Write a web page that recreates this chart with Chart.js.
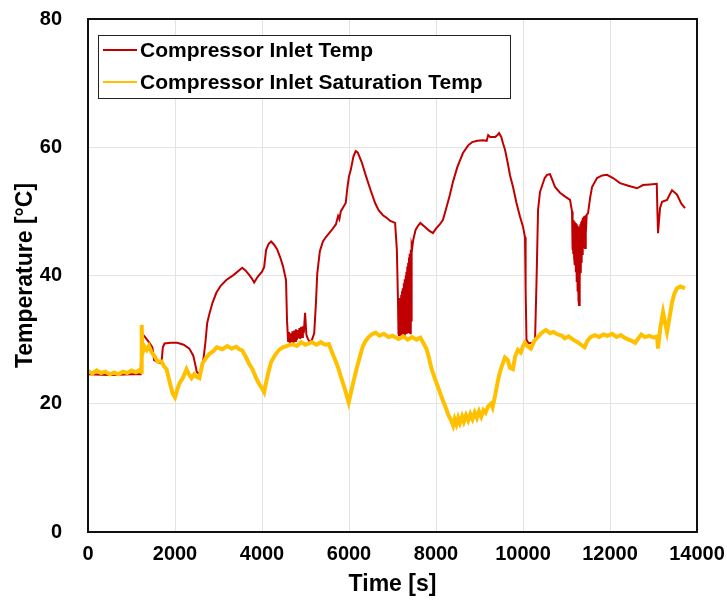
<!DOCTYPE html>
<html>
<head>
<meta charset="utf-8">
<script src="https://cdn.jsdelivr.net/npm/chart.js@4.4.1/dist/chart.umd.min.js"></script>
<style>
  html, body { margin: 0; padding: 0; background: #fff; }
  canvas { display: block; }
</style>
</head>
<body>
<canvas id="chart" width="727" height="601"></canvas>
<script>
// Compressor inlet temperature [s, °C]
const inletTemp = [
  [0,24.6],[500,24.5],[1000,24.6],[1210,24.6],[1230,31.0],[1300,30.5],[1400,29.6],[1480,28.8],
  [1520,26.8],[1600,26.5],[1690,26.3],[1720,28.8],[1760,29.4],[1900,29.5],[2050,29.5],[2200,29.2],
  [2330,28.6],[2420,27.5],[2460,26.3],[2500,25.0],[2560,24.6],[2610,25.3],[2660,27.3],[2700,29.6],
  [2740,32.6],[2790,34.0],[2860,35.7],[2950,37.3],[3050,38.4],[3180,39.3],[3350,40.1],[3546,41.2],
  [3620,40.8],[3706,40.1],[3760,39.6],[3820,38.9],[3900,39.8],[4000,40.6],[4049,41.3],[4095,44.0],
  [4150,44.9],[4209,45.3],[4280,44.8],[4346,44.1],[4420,42.8],[4480,41.5],[4552,39.3],[4575,33.0],
  [4600,29.8],[4620,31.2],[4640,29.4],[4660,31.0],[4680,29.6],[4700,31.3],[4720,29.5],[4740,31.4],
  [4760,29.8],[4780,31.6],[4800,29.9],[4820,31.5],[4840,30.2],[4860,31.8],[4880,30.1],[4900,32.0],
  [4920,30.4],[4940,32.1],[4960,31.0],[4990,34.2],[5020,30.8],[5050,30.2],[5080,29.8],[5130,29.6],
  [5200,31.0],[5240,35.7],[5270,40.3],[5330,43.8],[5400,45.3],[5470,46.0],[5605,47.1],[5700,48.0],
  [5750,49.3],[5780,48.8],[5811,50.0],[5925,51.3],[5960,53.5],[6000,55.5],[6039,56.4],[6100,58.5],
  [6154,59.4],[6200,59.2],[6291,57.7],[6400,55.3],[6497,53.3],[6600,51.3],[6680,50.2],[6780,49.4],
  [6863,49.0],[6950,48.5],[7060,48.2],[7100,44.0],[7127,35.7],[7135,30.8],[7140,36.0],[7150,30.7],
  [7160,36.5],[7170,30.9],[7180,35.2],[7190,30.6],[7200,37.0],[7210,31.0],[7220,37.6],[7230,30.8],
  [7240,38.0],[7250,31.1],[7260,38.8],[7270,30.7],[7280,39.4],[7290,31.0],[7300,40.0],[7310,31.2],
  [7320,40.6],[7330,30.9],[7340,41.4],[7350,31.3],[7360,42.0],[7370,31.0],[7380,42.8],[7390,31.4],
  [7400,43.4],[7410,31.0],[7420,44.0],[7430,33.0],[7440,44.8],[7455,44.4],[7475,45.5],[7530,47.1],
  [7590,47.8],[7640,48.2],[7740,47.6],[7840,47.0],[7930,46.6],[8000,47.3],[8090,48.0],[8160,48.7],
  [8240,50.6],[8320,52.6],[8390,54.6],[8490,56.9],[8620,59.1],[8740,60.3],[8830,60.8],[8950,61.0],
  [9080,61.1],[9165,61.0],[9200,61.9],[9245,61.6],[9360,61.6],[9415,61.9],[9449,62.2],[9500,61.6],
  [9545,60.5],[9587,59.6],[9650,57.5],[9702,55.6],[9771,53.8],[9850,51.3],[9930,49.2],[10000,47.6],
  [10046,46.0],[10060,38.0],[10080,30.0],[10130,29.4],[10208,29.5],[10277,30.0],[10310,38.8],[10346,50.2],
  [10390,53.0],[10438,54.0],[10500,55.2],[10552,55.7],[10621,55.8],[10680,54.8],[10736,53.8],[10851,52.9],
  [10970,52.3],[11081,51.8],[11127,50.0],[11135,44.0],[11145,48.8],[11155,43.5],[11165,48.6],[11175,42.8],
  [11185,48.4],[11195,41.6],[11205,48.2],[11215,40.5],[11225,48.0],[11235,39.0],[11245,47.8],[11255,37.5],
  [11265,47.5],[11275,36.2],[11288,35.4],[11298,47.6],[11308,39.0],[11318,48.0],[11328,40.4],[11338,48.4],
  [11348,42.0],[11358,48.6],[11368,43.2],[11378,49.0],[11388,44.4],[11398,49.2],[11408,44.8],[11418,49.3],
  [11428,44.3],[11438,49.4],[11448,46.5],[11465,49.5],[11495,49.7],[11540,52.0],[11587,53.8],[11702,55.2],
  [11820,55.6],[11932,55.7],[12070,55.2],[12231,54.4],[12420,54.0],[12621,53.6],[12759,54.1],[12920,54.2],
  [13075,54.3],[13090,50.0],[13104,46.6],[13150,50.5],[13196,51.5],[13311,51.8],[13370,52.6],[13426,53.3],
  [13480,53.0],[13541,52.6],[13640,51.2],[13725,50.5]
];

// Compressor inlet saturation temperature [s, °C]
const saturationTemp = [
  [0,25.1],[100,24.7],[200,25.2],[300,24.8],[400,25.0],[500,24.6],[600,24.9],[700,24.6],
  [800,25.0],[900,24.8],[1000,25.2],[1100,24.9],[1190,25.3],[1220,25.0],[1235,32.3],[1250,27.8],
  [1300,28.9],[1350,28.4],[1400,29.0],[1464,28.0],[1533,27.4],[1600,26.6],[1693,26.6],[1750,25.8],
  [1807,25.4],[1870,23.6],[1944,21.6],[2000,21.0],[2050,22.2],[2105,23.2],[2180,24.0],[2265,25.4],
  [2320,24.6],[2379,24.0],[2440,24.6],[2494,24.2],[2560,24.0],[2631,26.3],[2700,27.0],[2791,27.8],
  [2880,28.2],[2960,28.8],[3088,28.5],[3200,29.0],[3300,28.6],[3409,28.9],[3480,28.5],[3546,28.3],
  [3620,27.4],[3706,26.2],[3780,25.4],[3866,24.0],[3940,23.0],[4000,22.4],[4049,21.8],[4100,23.5],
  [4150,25.0],[4209,26.5],[4300,27.6],[4392,28.4],[4480,28.8],[4560,29.0],[4690,29.3],[4800,29.0],
  [4900,29.6],[5000,29.2],[5147,29.6],[5250,29.2],[5350,29.6],[5450,29.2],[5536,29.3],[5600,28.2],
  [5696,26.6],[5760,25.4],[5833,23.8],[5900,22.4],[5960,21.0],[5993,20.2],[6040,21.6],[6108,23.6],
  [6180,25.6],[6268,27.8],[6320,29.0],[6382,29.8],[6450,30.4],[6520,30.8],[6611,31.1],[6700,30.6],
  [6800,30.9],[6909,30.4],[7000,30.6],[7137,30.1],[7250,30.5],[7350,30.0],[7450,30.4],[7550,30.0],
  [7641,30.3],[7700,29.6],[7778,28.6],[7830,27.4],[7892,25.6],[7970,24.0],[8052,22.5],[8130,21.0],
  [8212,19.6],[8300,18.0],[8350,17.4],[8395,16.6],[8430,17.6],[8470,16.8],[8510,17.8],[8550,17.0],
  [8600,18.0],[8640,17.2],[8690,18.2],[8740,17.4],[8790,18.4],[8840,17.6],[8890,18.6],[8940,17.8],
  [8990,18.8],[9040,18.0],[9090,19.0],[9140,18.6],[9196,19.6],[9260,20.0],[9300,19.4],[9356,21.2],
  [9400,22.8],[9450,24.4],[9500,25.6],[9585,27.2],[9650,26.8],[9700,25.6],[9768,25.4],[9820,27.4],
  [9883,28.4],[9950,28.0],[10000,29.0],[10043,29.5],[10100,29.0],[10180,28.6],[10260,29.8],[10340,30.4],
  [10420,31.0],[10523,31.5],[10620,31.0],[10700,31.2],[10800,30.8],[10900,30.6],[10958,30.2],[11050,30.5],
  [11150,30.0],[11255,29.6],[11330,29.2],[11415,28.8],[11480,29.8],[11552,30.4],[11650,30.7],[11750,30.4],
  [11850,30.8],[11941,30.6],[12050,30.9],[12150,30.4],[12250,30.7],[12330,30.3],[12430,30.0],[12500,29.8],
  [12580,29.5],[12650,30.2],[12720,30.8],[12800,30.4],[12900,30.6],[13000,30.3],[13080,30.5],[13104,28.6],
  [13160,32.0],[13219,34.3],[13270,32.5],[13311,31.2],[13370,33.5],[13426,35.8],[13480,37.2],[13541,38.0],
  [13620,38.3],[13725,38.0]
];

const seriesNames = ['Compressor Inlet Temp', 'Compressor Inlet Saturation Temp'];
const seriesColors = ['#C00000', '#FFC000'];
const timeTicks = [0, 2000, 4000, 6000, 8000, 10000, 12000, 14000];
const tempTicks = [0, 20, 40, 60, 80];

const FONT = "'Liberation Sans', Arial, sans-serif";
const toPoints = arr => arr.map(([x, y]) => ({ x, y }));

// Black frame around the plotting area
const framePlugin = {
  id: 'frame',
  afterDatasetsDraw(chart) {
    const { ctx, chartArea: a } = chart;
    ctx.save();
    ctx.strokeStyle = '#111';
    ctx.lineWidth = 2;
    ctx.strokeRect(a.left, a.top, a.right - a.left, a.bottom - a.top);
    ctx.restore();
  }
};

// Boxed legend inside the upper-left corner of the plot
const boxLegendPlugin = {
  id: 'boxLegend',
  afterDraw(chart) {
    const { ctx, chartArea: a } = chart;
    const x0 = a.left + 10, y0 = a.top + 16, w = 412, h = 63;
    ctx.save();
    ctx.fillStyle = '#fff';
    ctx.fillRect(x0, y0, w, h);
    ctx.strokeStyle = '#222';
    ctx.lineWidth = 1;
    ctx.strokeRect(x0 + 0.5, y0 + 0.5, w, h);
    ctx.font = "bold 21px " + FONT;
    ctx.textBaseline = 'middle';
    chart.data.datasets.forEach((ds, i) => {
      const y = y0 + 15 + i * 32;
      ctx.strokeStyle = ds.borderColor;
      ctx.lineWidth = 2;
      ctx.beginPath();
      ctx.moveTo(x0 + 5, y);
      ctx.lineTo(x0 + 39, y);
      ctx.stroke();
      ctx.fillStyle = '#000';
      ctx.fillText(ds.label, x0 + 42, y + 1);
    });
    ctx.restore();
  }
};

new Chart(document.getElementById('chart'), {
  type: 'line',
  data: {
    datasets: [
      {
        label: seriesNames[0],
        data: toPoints(inletTemp),
        borderColor: seriesColors[0],
        borderWidth: 2,
        pointRadius: 0,
        tension: 0,
        order: 1
      },
      {
        label: seriesNames[1],
        data: toPoints(saturationTemp),
        borderColor: seriesColors[1],
        borderWidth: 4,
        pointRadius: 0,
        tension: 0,
        order: 0
      }
    ]
  },
  options: {
    responsive: false,
    animation: false,
    devicePixelRatio: 1,
    layout: { padding: { top: 19, right: 30, left: 0, bottom: 0 } },
    plugins: {
      legend: { display: false },
      tooltip: { enabled: false }
    },
    scales: {
      x: {
        type: 'linear',
        min: 0,
        max: 14000,
        afterBuildTicks: s => { s.ticks = timeTicks.map(v => ({ value: v })); },
        afterFit: s => { s.height = 69; s.paddingLeft = 0; s.paddingRight = 0; },
        grid: { color: '#e3e3e3', lineWidth: 1, drawTicks: false },
        border: { display: false },
        ticks: {
          color: '#000',
          padding: 10,
          maxRotation: 0,
          callback: v => String(v),
          font: { family: FONT, size: 20, weight: 'bold' }
        },
        title: {
          display: true,
          text: 'Time [s]',
          color: '#000',
          padding: { top: 0, bottom: 3 },
          font: { family: FONT, size: 23, weight: 'bold' }
        }
      },
      y: {
        min: 0,
        max: 80,
        afterBuildTicks: s => { s.ticks = tempTicks.map(v => ({ value: v })); },
        afterFit: s => { s.width = 88; s.paddingTop = 0; s.paddingBottom = 0; },
        grid: { color: '#e3e3e3', lineWidth: 1, drawTicks: false },
        border: { display: false },
        ticks: {
          color: '#000',
          padding: 26,
          callback: v => String(v),
          font: { family: FONT, size: 20, weight: 'bold' }
        },
        title: {
          display: true,
          text: 'Temperature [°C]',
          color: '#000',
          padding: { top: 12, bottom: 0 },
          font: { family: FONT, size: 23, weight: 'bold' }
        }
      }
    }
  },
  plugins: [framePlugin, boxLegendPlugin]
});
</script>
</body>
</html>
